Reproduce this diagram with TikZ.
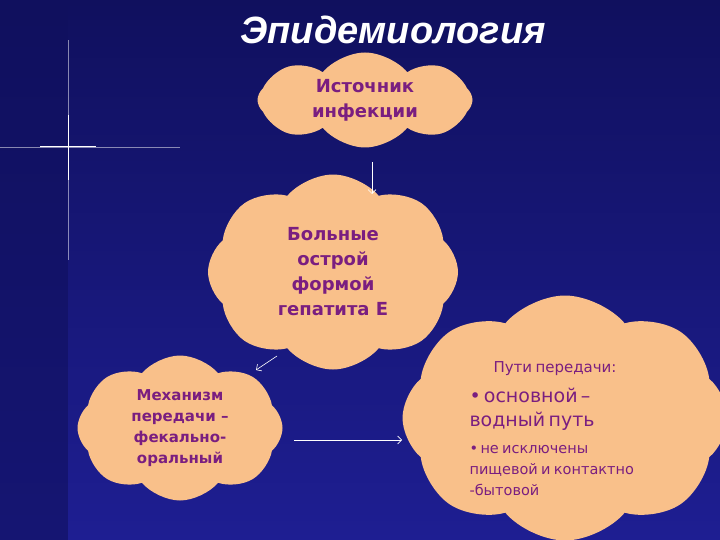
\documentclass[tikz,border=0pt]{standalone}
\usepackage{fontspec}
\setmainfont{DejaVu Sans}
\newfontfamily\titlefont{Liberation Sans}
\usetikzlibrary{shapes.symbols,arrows.meta}
\definecolor{peach}{HTML}{F9C08A}
\definecolor{txt}{HTML}{7A1E80}
\definecolor{bgA}{HTML}{10105E}
\definecolor{bgB}{HTML}{1E1E92}
\tikzset{
  puff/.style={cloud, cloud puffs=8, cloud puff arc=100, fill=peach, draw=none, inner sep=0pt},
  ctext/.style={text=txt, align=center},
  conn/.style={draw=white, line width=0.6pt, -{Straight Barb[length=4pt]}}
}
\begin{document}
\begin{tikzpicture}[x=1pt,y=-1pt]
\useasboundingbox (0,0) rectangle (720,540);
\shade[top color=bgA, bottom color=bgB] (0,0) rectangle (720,540);
\fill[bgA, opacity=0.6] (0,0) rectangle (68,540);
\draw[white, opacity=0.5, line width=0.5pt] (0,147) -- (180,147);
\draw[white, opacity=0.5, line width=0.5pt] (68,40) -- (68,260);
\draw[white, line width=1pt] (40,147) -- (96,147);
\draw[white, line width=1pt] (68,115) -- (68,180);
\node[white, font=\titlefont\bfseries\itshape\fontsize{38}{40}\selectfont] (title) at (393,30) {Эпидемиология};
\node[puff, minimum width=215, minimum height=95] (c1) at (365,100) {};
\node[ctext, font=\bfseries\fontsize{18}{25}\selectfont] (t1) at (c1) {Источник\\инфекции};
\node[puff, minimum width=250, minimum height=195] (c2) at (333,272) {};
\node[ctext, font=\bfseries\fontsize{18}{25}\selectfont] (t2) at (c2) {Больные\\острой\\формой\\гепатита Е};
\node[puff, minimum width=205, minimum height=145] (c3) at (180,428) {};
\node[ctext, font=\bfseries\fontsize{15}{21}\selectfont] (t3) at (c3) {Механизм\\передачи –\\фекально-\\оральный};
\node[puff, minimum width=325, minimum height=245] (c4) at (565,418) {};
\node[txt, align=left, anchor=north west, text width=220pt] (t4) at (466,358) {%
{\fontsize{15}{20}\selectfont\hspace*{24pt}Пути передачи:\par}\vspace{6pt}
{\fontsize{19}{24}\selectfont •\,основной –\\ водный путь\par}\vspace{6pt}
{\fontsize{14.5}{21}\selectfont •\,не исключены\\ пищевой и контактно\\ -бытовой\par}};
\coordinate (a1) at (372,162); \coordinate (b1) at (372,194);
\draw[conn] (a1) -- (b1);
\coordinate (a2) at (277,356); \coordinate (b2) at (256,370);
\draw[conn] (a2) -- (b2);
\coordinate (a3) at (294,440); \coordinate (b3) at (402,440);
\draw[conn] (a3) -- (b3);
\end{tikzpicture}
\end{document}
